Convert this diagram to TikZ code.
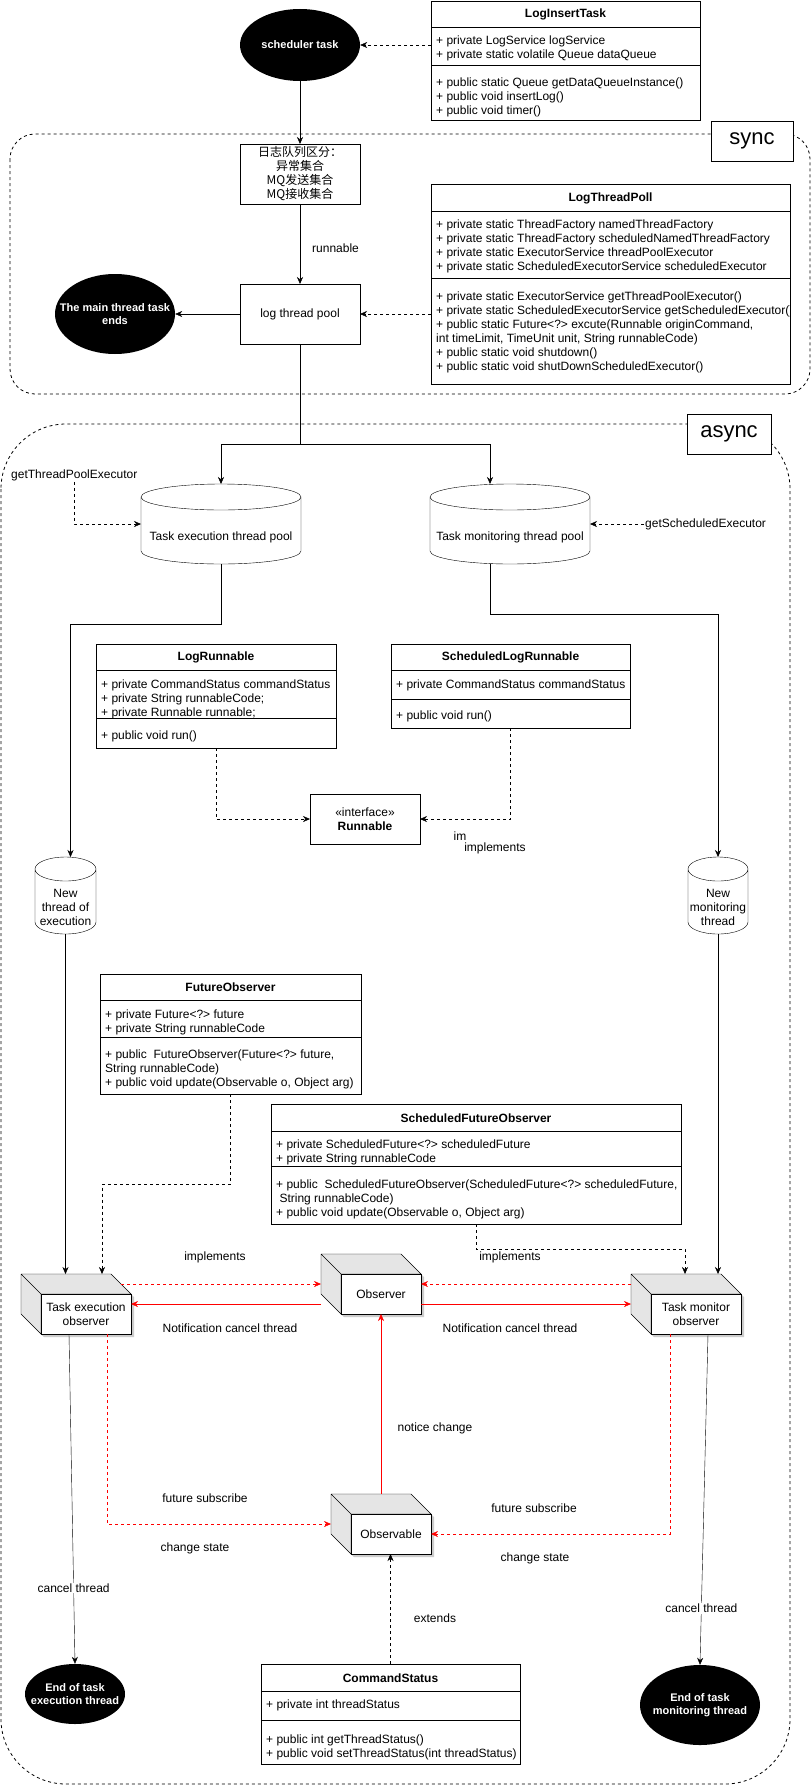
\documentclass[tikz,border=0pt]{standalone}
\usepackage{fontspec}
\setmainfont{Liberation Sans}
\newfontfamily\cjk{Noto Sans CJK SC}
\usetikzlibrary{arrows.meta,shapes.geometric,calc,backgrounds}
\newcommand{\cubeshape}[1]{%
  \begin{pgfonlayer}{background}
    \fill[black!20] let \p1=(#1.north west),\p2=(#1.south east) in (\x1+3pt,\y1-3pt) -- (\x2-17pt,\y1-3pt) -- (\x2+3pt,\y1-23pt) -- (\x2+3pt,\y2-3pt) -- (\x1+23pt,\y2-3pt) -- (\x1+3pt,\y2+17pt) -- cycle;
  \end{pgfonlayer}
  \draw[fill=gray!20] let \p1=(#1.north west),\p2=(#1.south east) in (\x1,\y1) -- (\x2-20pt,\y1) -- (\x2,\y1-20pt) -- (\x1+20pt,\y1-20pt) -- (\x1+20pt,\y2) -- (\x1,\y2+20pt) -- cycle (\x1,\y1) -- (\x1+20pt,\y1-20pt);
  \draw[fill=white] let \p1=(#1.north west),\p2=(#1.south east) in (\x1+20pt,\y1-20pt) rectangle (\x2,\y2);}
\newcommand{\cylshape}[3]{%
  \draw let \p1=(#1.north west),\p2=(#1.south east) in (\x1,\y1-#3) -- (\x1,\y2+#3) arc[start angle=180,end angle=360,x radius=#2,y radius=#3] -- (\x2,\y1-#3) arc[start angle=0,end angle=180,x radius=#2,y radius=#3] arc[start angle=180,end angle=360,x radius=#2,y radius=#3];}
\begin{document}
\begin{tikzpicture}[x=1pt,y=-1pt,line width=1pt,>={Stealth[length=7pt,width=6pt]},font=\fontsize{12}{14}\selectfont,
  blob/.style={ellipse,fill=black,text=white,font=\fontsize{11}{13}\selectfont\bfseries,align=center,inner sep=-15pt},
  cls/.style={draw,fill=white,anchor=north west,inner sep=0,outer sep=0},
  pbox/.style={draw,fill=white,inner sep=0,outer sep=0,align=center},
  hold/.style={inner sep=0,outer sep=0},
  ttl/.style={font=\fontsize{12}{14}\selectfont\bfseries,inner sep=0},
  mem/.style={anchor=west,inner sep=0,text height=10pt,text depth=2pt},
  lbl/.style={inner sep=1pt,align=center},
  dsh/.style={dash pattern=on 3pt off 3pt},
  rdsh/.style={red,dash pattern=on 3pt off 3pt},
  region/.style={line width=.8pt,dash pattern=on 3pt off 3pt}]
\useasboundingbox (0,0) rectangle (811,1785);
\begin{pgfonlayer}{background}\fill[white] (0,0) rectangle (811,1785);\end{pgfonlayer}
% sync part
\draw[region,rounded corners=25pt] (10,134) rectangle (810,394);
\node[pbox,minimum width=82pt,minimum height=40pt,font=\fontsize{22}{26}\selectfont] (syncL) at (752,141) {sync};
\node[blob,minimum width=120pt,minimum height=72pt] (sched) at (300,45) {scheduler task};
\node[cls,minimum width=269pt,minimum height=119pt] (lit) at (431,1) {};
\draw ([yshift=-26pt]lit.north west) -- ([yshift=-26pt]lit.north east);\draw ([yshift=-64pt]lit.north west) -- ([yshift=-64pt]lit.north east);
\node[ttl] (litT) at ([yshift=-13pt]lit.north) {LogInsertTask};
\foreach \m [count=\i] in {{+ private LogService logService},{+ private static volatile Queue dataQueue}}
  \node[mem] (litA\i) at (436,{27+14*\i}) {\m};
\foreach \m [count=\i] in {{+ public static Queue getDataQueueInstance()},{+ public void insertLog()},{+ public void timer()}}
  \node[mem] (litM\i) at (436,{68+14*\i}) {\m};
\node[pbox,minimum width=120pt,minimum height=60pt,font=\cjk\fontsize{12}{14}\selectfont] (cn) at (300,174) {日志队列区分：\\异常集合\\MQ发送集合\\MQ接收集合};
\node[pbox,minimum width=120pt,minimum height=60pt] (ltp) at (300,314) {log thread pool};
\node[blob,minimum width=120pt,minimum height=80pt] (mte) at (115,314) {The main thread task\\ends};
\node[cls,minimum width=359pt,minimum height=200pt] (ltpoll) at (431,184) {};
\draw ([yshift=-27pt]ltpoll.north west) -- ([yshift=-27pt]ltpoll.north east);\draw ([yshift=-94pt]ltpoll.north west) -- ([yshift=-94pt]ltpoll.north east);
\node[ttl] (ltpollT) at ([yshift=-14pt]ltpoll.north) {LogThreadPoll};
\foreach \m [count=\i] in {{+ private static ThreadFactory namedThreadFactory},{+ private static ThreadFactory scheduledNamedThreadFactory},{+ private static ExecutorService threadPoolExecutor},{+ private static ScheduledExecutorService scheduledExecutor}}
  \node[mem] (ltpollA\i) at (436,{210+14*\i}) {\m};
\begin{scope}
  \clip (ltpoll.north west) rectangle (ltpoll.south east);
  \foreach \m [count=\i] in {{+ private static ExecutorService getThreadPoolExecutor()},{+ private static ScheduledExecutorService getScheduledExecutor()},{+ public static Future<?> excute(Runnable originCommand,},{int timeLimit, TimeUnit unit, String runnableCode)},{+ public static void shutdown()},{+ public static void shutDownScheduledExecutor()}}
    \node[mem] (ltpollM\i) at (436,{282+14*\i}) {\m};
\end{scope}
\draw[dsh,->] (lit.west |- sched) -- (sched.east);
\draw[->] (sched) -- (cn);
\draw[->] (cn) -- (ltp) node[lbl,pos=.55,right=11pt] (runL) {runnable};
\draw[->] (ltp) -- (mte);
\draw[dsh,->] (ltpoll.west |- ltp) -- (ltp.east);
% async part
\draw[region,rounded corners=65pt] (1,424) rectangle (790,1784);
\node[pbox,minimum width=84pt,minimum height=40pt,font=\fontsize{22}{26}\selectfont] (asyncL) at (729,434) {async};
\node[hold,minimum width=160pt,minimum height=80pt] (tep) at (221,524) {};\cylshape{tep}{80pt}{13pt}
\node[lbl] (tepT) at (221,537) {Task execution thread pool};
\node[hold,minimum width=160pt,minimum height=80pt] (tmp) at (510,524) {};\cylshape{tmp}{80pt}{13pt}
\node[lbl] (tmpT) at (510,537) {Task monitoring thread pool};
\node[lbl,anchor=west] (gtpe) at (10,475) {getThreadPoolExecutor};
\node[lbl,anchor=west] (gse) at (644,524) {getScheduledExecutor};
\draw (ltp.south) -- ++(0,100) coordinate (fork);
\draw[->] (fork) -| (tep.north);\draw[->] (fork) -| ([xshift=-20pt]tmp.north);
\draw[dsh,->] (gtpe.south) |- (tep.west);
\draw[dsh,->] (gse.west) -- (tmp.east);
\node[cls,minimum width=240pt,minimum height=104pt] (lr) at (96,644) {};
\draw ([yshift=-26pt]lr.north west) -- ([yshift=-26pt]lr.north east);\draw ([yshift=-74pt]lr.north west) -- ([yshift=-74pt]lr.north east);
\node[ttl] (lrT) at ([yshift=-13pt]lr.north) {LogRunnable};
\foreach \m [count=\i] in {{+ private CommandStatus commandStatus},{+ private String runnableCode;},{+ private Runnable runnable;}}
  \node[mem] (lrA\i) at (101,{670+14*\i}) {\m};
\node[mem] (lrM1) at (101,735) {+ public void run()};
\node[cls,minimum width=239pt,minimum height=84pt] (slr) at (391,644) {};
\draw ([yshift=-26pt]slr.north west) -- ([yshift=-26pt]slr.north east);\draw ([yshift=-55pt]slr.north west) -- ([yshift=-55pt]slr.north east);
\node[ttl] (slrT) at ([yshift=-13pt]slr.north) {ScheduledLogRunnable};
\node[mem] (slrA1) at (396,684) {+ private CommandStatus commandStatus};
\node[mem] (slrM1) at (396,715) {+ public void run()};
\node[pbox,minimum width=110pt,minimum height=50pt] (rn) at (365,819) {«interface»\\\textbf{Runnable}};
\draw[dsh,->] (lr.south) |- (rn.west);
\draw[dsh,->] (slr.south) |- (rn.east);
\node[lbl] (im0) at (460,836) {im};
\node[lbl] (imp0) at (495,848) {implements};
\node[hold,minimum width=61pt,minimum height=77pt] (ne) at (65.5,895.5) {};\cylshape{ne}{30.5pt}{12pt}
\node[lbl] (neT) at (65.5,907) {New\\thread of\\execution};
\node[hold,minimum width=60pt,minimum height=77pt] (nm) at (718,895.5) {};\cylshape{nm}{30pt}{12pt}
\node[lbl] (nmT) at (718,907) {New\\monitoring\\thread};
\draw[->] (tep.south) -- ++(0,60) -| ([xshift=5pt]ne.north);
\draw[->] ([xshift=-20pt]tmp.south) -- ++(0,50) -| (nm.north);
\node[cls,minimum width=261pt,minimum height=120pt] (fo) at (100,974) {};
\draw ([yshift=-26pt]fo.north west) -- ([yshift=-26pt]fo.north east);\draw ([yshift=-63pt]fo.north west) -- ([yshift=-63pt]fo.north east);
\node[ttl] (foT) at ([yshift=-13pt]fo.north) {FutureObserver};
\foreach \m [count=\i] in {{+ private Future<?> future},{+ private String runnableCode}}
  \node[mem] (foA\i) at (105,{1000+14*\i}) {\m};
\foreach \m [count=\i] in {{+ public\ \ FutureObserver(Future<?> future,},{String runnableCode)},{+ public void update(Observable o, Object arg)}}
  \node[mem] (foM\i) at (105,{1040+14*\i}) {\m};
\node[cls,minimum width=410pt,minimum height=120pt] (sfo) at (271,1104) {};
\draw ([yshift=-27pt]sfo.north west) -- ([yshift=-27pt]sfo.north east);\draw ([yshift=-62pt]sfo.north west) -- ([yshift=-62pt]sfo.north east);
\node[ttl] (sfoT) at ([yshift=-14pt]sfo.north) {ScheduledFutureObserver};
\foreach \m [count=\i] in {{+ private ScheduledFuture<?> scheduledFuture},{+ private String runnableCode}}
  \node[mem] (sfoA\i) at (276,{1130+14*\i}) {\m};
\foreach \m [count=\i] in {{+ public\ \ ScheduledFutureObserver(ScheduledFuture<?> scheduledFuture,},{\ String runnableCode)},{+ public void update(Observable o, Object arg)}}
  \node[mem] (sfoM\i) at (276,{1170+14*\i}) {\m};
% observer cubes
\node[hold,minimum width=110pt,minimum height=60pt] (teo) at (76,1304) {};\cubeshape{teo}
\node[lbl] (teoT) at (86,1314) {Task execution\\observer};
\node[hold,minimum width=100pt,minimum height=60pt] (obs) at (371,1284) {};\cubeshape{obs}
\node[lbl] (obsT) at (381,1294) {Observer};
\node[hold,minimum width=110pt,minimum height=60pt] (tmo) at (686,1304) {};\cubeshape{tmo}
\node[lbl] (tmoT) at (696,1314) {Task monitor\\observer};
\node[hold,minimum width=100pt,minimum height=60pt] (obl) at (381,1524) {};\cubeshape{obl}
\node[lbl] (oblT) at (391,1534) {Observable};
\draw[->] (ne.south) -- (ne.south |- teo.north);
\draw[->] (nm.south) -- (nm.south |- tmo.north);
\draw[dsh,->] (fo.south) -- ++(0,90) -| ([xshift=81pt]teo.north west);
\draw[dsh,->] (sfo.south) -- ++(0,25) -| ([xshift=54pt]tmo.north west);
\node[lbl] (impL) at (215,1257) {implements};
\node[lbl] (impR) at (510,1257) {implements};
\draw[rdsh,->] ([shift={(-10pt,-10pt)}]teo.north east) -- (obs.west);
\draw[rdsh,->] ([yshift=-10pt]tmo.north west) -- (obs.east);
\draw[red,->] (obs.west |- teo.east) -- (teo.east);
\draw[red,->] (obs.east |- tmo.west) -- (tmo.west);
\node[lbl] (ncL) at (230,1328) {Notification cancel thread};
\node[lbl] (ncR) at (510,1328) {Notification cancel thread};
\draw[red,->] (obl.north) -- (obl.north |- obs.south);
\node[lbl] (ntc) at (435,1428) {notice change};
\draw[rdsh,->] ([xshift=31pt]teo.south) |- (obl.west);
\draw[rdsh,->] ([xshift=-16pt]tmo.south) |- ([yshift=-10pt]obl.east);
\node[lbl] (fsL) at (205,1498) {future subscribe};
\node[lbl] (chL) at (195,1548) {change state};
\node[lbl] (fsR) at (534,1508) {future subscribe};
\node[lbl] (chR) at (535,1558) {change state};
% ends
\node[blob,minimum width=100pt,minimum height=60pt] (ete) at (75,1694) {End of task\\execution thread};
\node[blob,minimum width=120pt,minimum height=80pt] (etm) at (700,1705) {End of task\\monitoring thread};
\draw[->] ([xshift=-7pt]teo.south) -- (ete.north) node[lbl,fill=white,pos=.77] (ctL) {cancel thread};
\draw[->] ([xshift=22pt]tmo.south) -- (etm.north) node[lbl,fill=white,pos=.83] (ctR) {cancel thread};
\node[cls,minimum width=259pt,minimum height=100pt] (cs) at (261,1664) {};
\draw ([yshift=-27pt]cs.north west) -- ([yshift=-27pt]cs.north east);\draw ([yshift=-56pt]cs.north west) -- ([yshift=-56pt]cs.north east);
\node[ttl] (csT) at ([yshift=-14pt]cs.north) {CommandStatus};
\node[mem] (csA1) at (266,1704) {+ private int threadStatus};
\foreach \m [count=\i] in {{+ public int getThreadStatus()},{+ public void setThreadStatus(int threadStatus)}}
  \node[mem] (csM\i) at (266,{1725+14*\i}) {\m};
\draw[dsh,->] (cs.north) -- (cs.north |- obl.south);
\node[lbl] (ext) at (435,1618) {extends};
\end{tikzpicture}
\end{document}
